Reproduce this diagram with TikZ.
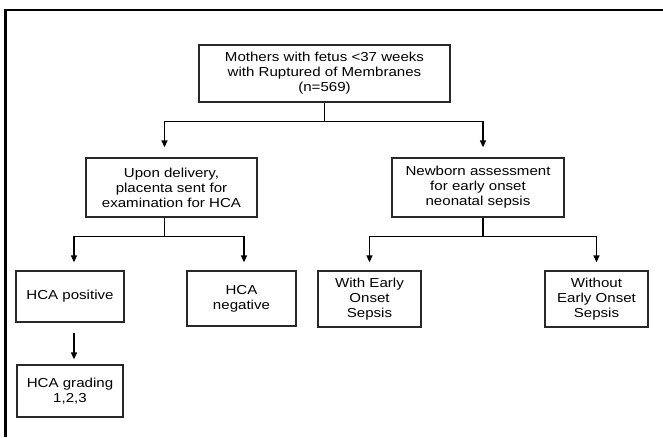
\documentclass[tikz,border=0pt]{standalone}
\usepackage{fontspec}
\setmainfont[FakeStretch=1.16]{Liberation Sans}
\usetikzlibrary{arrows.meta}
\definecolor{edge}{RGB}{40,40,40}

\begin{document}
\begin{tikzpicture}[
  x=1pt, y=-1pt,
  box/.style={draw=edge, line width=1.3pt, align=center, inner sep=0pt,
    font=\fontsize{13}{15}\selectfont},
  arrow/.style={-{Triangle[length=7pt, width=6pt]}, line width=1.3pt}
]
\useasboundingbox (0,0) rectangle (663,437);

% frame
\draw[line width=3pt] (5.5,437) -- (5.5,9.5);
\draw[line width=2pt] (4,9.5) -- (663,9.5);

\node[box, minimum width=251pt, minimum height=57pt] (mothers) at (324.5,73.5)
  {Mothers with fetus <37 weeks\\with Ruptured of Membranes\\(n=569)};
\node[box, minimum width=171pt, minimum height=59pt] (deliv) at (171.5,187.5)
  {Upon delivery,\\placenta sent for\\examination for HCA};
\node[box, minimum width=172pt, minimum height=59pt] (newborn) at (478,187.5)
  {Newborn assessment\\for early onset\\neonatal sepsis};
\node[box, minimum width=108pt, minimum height=51pt] (hpos) at (70,296.5)
  {HCA positive};
\node[box, minimum width=109pt, minimum height=55pt] (hneg) at (241.5,298.5)
  {HCA\\negative};
\node[box, minimum width=103pt, minimum height=56pt] (withE) at (369.5,299)
  {With Early\\Onset\\Sepsis};
\node[box, minimum width=103pt, minimum height=56pt] (withoutE) at (596.5,299)
  {Without\\Early Onset\\Sepsis};
\node[box, minimum width=106pt, minimum height=52pt] (grade) at (70,391)
  {HCA grading\\1,2,3};

% connectors
\draw[arrow, shorten >=10pt] (mothers.south) -- ++(0,19) -| ([xshift=-7pt]deliv.north);
\draw[arrow, shorten >=10pt] (mothers.south) -- ++(0,19) -| ([xshift=5pt]newborn.north);
\draw[arrow, shorten >=8pt] ([xshift=-7pt]deliv.south) -- ++(0,19) -| ([xshift=4pt]hpos.north);
\draw[arrow, shorten >=8pt] ([xshift=-7pt]deliv.south) -- ++(0,19) -| ([xshift=2.5pt]hneg.north);
\draw[arrow, shorten >=8pt] ([xshift=5pt]newborn.south) -- ++(0,19) -| (withE.north);
\draw[arrow, shorten >=8pt] ([xshift=5pt]newborn.south) -- ++(0,19) -| (withoutE.north);
\draw[arrow, shorten <=10pt, shorten >=5pt] ([xshift=4pt]hpos.south) -- ([xshift=4pt]grade.north);
\end{tikzpicture}
\end{document}
